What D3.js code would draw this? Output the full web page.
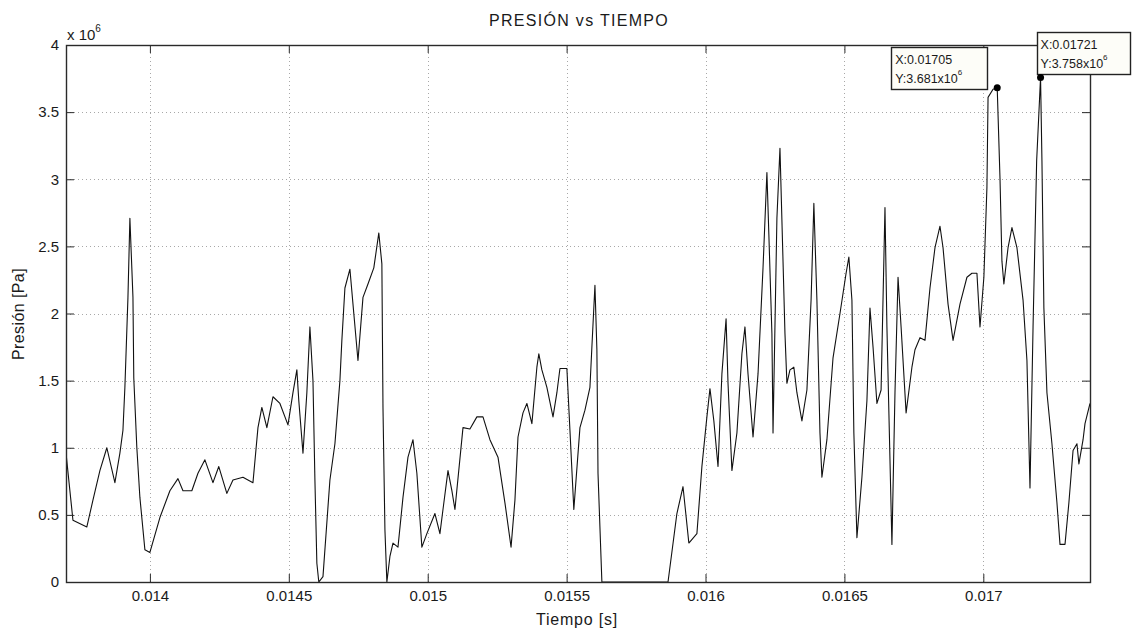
<!DOCTYPE html>
<html>
<head>
<meta charset="utf-8">
<script src="https://cdn.jsdelivr.net/npm/d3@7"></script>
<style>
  body { margin: 0; background: #fff; }
  text { font-family: "Liberation Sans", Arial, sans-serif; fill: #1a1a1a; }
</style>
</head>
<body>
<svg id="chart" width="1132" height="631"></svg>
<script>
// tiempo en s
const tiempo = [
  0.013698, 0.013723, 0.013773, 0.013795, 0.013820, 0.013845, 0.013874, 0.013892, 0.013903, 0.013910,
  0.013921, 0.013928, 0.013939, 0.013942, 0.013953, 0.013964, 0.013982, 0.014000, 0.014036, 0.014072,
  0.014101, 0.014119, 0.014151, 0.014173, 0.014198, 0.014227, 0.014248, 0.014277, 0.014299, 0.014335,
  0.014371, 0.014389, 0.014403, 0.014421, 0.014443, 0.014468, 0.014497, 0.014515, 0.014529, 0.014536,
  0.014551, 0.014565, 0.014576, 0.014587, 0.014594, 0.014601, 0.014608, 0.014623, 0.014648, 0.014666,
  0.014684, 0.014691, 0.014702, 0.014720, 0.014734, 0.014749, 0.014767, 0.014785, 0.014806, 0.014824,
  0.014835, 0.014839, 0.014846, 0.014853, 0.014864, 0.014875, 0.014893, 0.014911, 0.014929, 0.014947,
  0.014961, 0.014979, 0.014997, 0.015026, 0.015044, 0.015055, 0.015073, 0.015087, 0.015098, 0.015127,
  0.015152, 0.015177, 0.015199, 0.015224, 0.015253, 0.015278, 0.015300, 0.015314, 0.015325, 0.015343,
  0.015357, 0.015375, 0.015393, 0.015400, 0.015411, 0.015429, 0.015451, 0.015465, 0.015476, 0.015501,
  0.015512, 0.015526, 0.015548, 0.015566, 0.015584, 0.015591, 0.015602, 0.015609, 0.015613, 0.015627,
  0.015865, 0.015897, 0.015919, 0.015940, 0.015969, 0.015987, 0.016005, 0.016016, 0.016030, 0.016045,
  0.016059, 0.016074, 0.016081, 0.016095, 0.016113, 0.016131, 0.016142, 0.016153, 0.016171, 0.016189,
  0.016207, 0.016221, 0.016228, 0.016239, 0.016243, 0.016257, 0.016268, 0.016279, 0.016286, 0.016293,
  0.016304, 0.016318, 0.016329, 0.016347, 0.016365, 0.016380, 0.016390, 0.016401, 0.016412, 0.016419,
  0.016437, 0.016459, 0.016484, 0.016506, 0.016516, 0.016527, 0.016534, 0.016545, 0.016563, 0.016581,
  0.016592, 0.016603, 0.016617, 0.016632, 0.016646, 0.016653, 0.016671, 0.016682, 0.016693, 0.016704,
  0.016722, 0.016743, 0.016754, 0.016772, 0.016790, 0.016808, 0.016826, 0.016844, 0.016855, 0.016873,
  0.016891, 0.016916, 0.016941, 0.016959, 0.016977, 0.016988, 0.017002, 0.017013, 0.017017, 0.017035,
  0.017050, 0.017060, 0.017067, 0.017074, 0.017089, 0.017103, 0.017121, 0.017143, 0.017157, 0.017168,
  0.017179, 0.017192, 0.017206, 0.017211, 0.017218, 0.017229, 0.017247, 0.017265, 0.017276, 0.017294,
  0.017308, 0.017323, 0.017337, 0.017344, 0.017359, 0.017366, 0.017384
];

// presion en Pa x 10^6
const presion = [
  0.96, 0.46, 0.41, 0.61, 0.83, 1.00, 0.74, 0.96, 1.13, 1.45,
  2.12, 2.71, 2.12, 1.52, 1.00, 0.63, 0.24, 0.22, 0.48, 0.68,
  0.77, 0.68, 0.68, 0.81, 0.91, 0.74, 0.86, 0.66, 0.76, 0.78,
  0.74, 1.15, 1.30, 1.15, 1.38, 1.33, 1.17, 1.41, 1.58, 1.35,
  0.96, 1.41, 1.90, 1.50, 0.76, 0.14, 0.00, 0.04, 0.76, 1.03,
  1.50, 1.80, 2.19, 2.33, 2.00, 1.65, 2.12, 2.22, 2.34, 2.60,
  2.37, 1.30, 0.39, 0.00, 0.19, 0.29, 0.26, 0.63, 0.93, 1.06,
  0.81, 0.26, 0.36, 0.51, 0.36, 0.54, 0.83, 0.68, 0.54, 1.15,
  1.14, 1.23, 1.23, 1.06, 0.93, 0.59, 0.26, 0.61, 1.08, 1.26,
  1.33, 1.18, 1.60, 1.70, 1.58, 1.45, 1.23, 1.41, 1.59, 1.59,
  1.13, 0.54, 1.15, 1.28, 1.45, 1.75, 2.21, 1.73, 0.81, 0.00,
  0.00, 0.51, 0.71, 0.29, 0.36, 0.86, 1.23, 1.44, 1.20, 0.86,
  1.55, 1.96, 1.48, 0.83, 1.11, 1.70, 1.90, 1.55, 1.08, 1.55,
  2.34, 3.05, 2.59, 1.85, 1.11, 2.71, 3.23, 2.39, 1.85, 1.48,
  1.58, 1.60, 1.41, 1.20, 1.43, 2.10, 2.82, 2.10, 1.11, 0.78,
  1.06, 1.67, 2.00, 2.30, 2.42, 2.10, 1.11, 0.33, 0.78, 1.35,
  2.04, 1.75, 1.33, 1.43, 2.79, 1.90, 0.28, 1.41, 2.27, 1.90,
  1.26, 1.60, 1.73, 1.82, 1.80, 2.19, 2.49, 2.65, 2.49, 2.07,
  1.80, 2.07, 2.27, 2.30, 2.30, 1.90, 2.27, 2.94, 3.61, 3.67,
  3.681, 3.01, 2.39, 2.22, 2.49, 2.64, 2.49, 2.10, 1.65, 0.70,
  1.90, 3.14, 3.758, 3.14, 2.04, 1.41, 1.03, 0.59, 0.28, 0.28,
  0.59, 0.98, 1.03, 0.88, 1.06, 1.18, 1.33
];

const xTicks = [0.014, 0.0145, 0.015, 0.0155, 0.016, 0.0165, 0.017];
const xTickLabels = ["0.014", "0.0145", "0.015", "0.0155", "0.016", "0.0165", "0.017"];
const yTicks = [0, 0.5, 1, 1.5, 2, 2.5, 3, 3.5, 4];
const yTickLabels = ["0", "0.5", "1", "1.5", "2", "2.5", "3", "3.5", "4"];

// data tips
const tipTiempo = [0.01705, 0.017206];
const tipPresion = [3.681, 3.758];
const tipX = ["X:0.01705", "X:0.01721"];
const tipY = ["Y:3.681x10", "Y:3.758x10"];

const dims = { left: 66, right: 1090, top: 45, bottom: 582 };

const svg = d3.select("#chart");

const x = d3.scaleLinear().domain([0.013698, 0.017384]).range([dims.left, dims.right]);
const y = d3.scaleLinear().domain([0, 4]).range([dims.bottom, dims.top]);

const axisColor = "#2a2a2a";

// grid
const grid = svg.append("g").attr("class", "grid")
  .attr("stroke", "#a8a8a8").attr("stroke-width", 1).attr("stroke-dasharray", "1 3");
grid.selectAll(".gx").data(xTicks).join("line")
  .attr("x1", d => Math.round(x(d)) + 0.5).attr("x2", d => Math.round(x(d)) + 0.5)
  .attr("y1", dims.top).attr("y2", dims.bottom);
grid.selectAll(".gy").data(yTicks.slice(1, -1)).join("line")
  .attr("class", "gy")
  .attr("x1", dims.left).attr("x2", dims.right)
  .attr("y1", d => Math.round(y(d)) + 0.5).attr("y2", d => Math.round(y(d)) + 0.5);

// curve
svg.append("clipPath").attr("id", "plot-clip")
  .append("rect")
    .attr("x", dims.left).attr("y", dims.top)
    .attr("width", dims.right - dims.left).attr("height", dims.bottom - dims.top);

const serie = tiempo.map((t, i) => ({ t, p: presion[i] }));
const line = d3.line().x(d => x(d.t)).y(d => y(d.p));

svg.append("path")
  .datum(serie)
  .attr("clip-path", "url(#plot-clip)")
  .attr("fill", "none")
  .attr("stroke", "#111")
  .attr("stroke-width", 1.1)
  .attr("stroke-linejoin", "round")
  .attr("d", line);

// axes
const tickLen = 8;
const styleAxis = g => {
  g.select(".domain").remove();
  g.selectAll(".tick line").attr("stroke", axisColor);
  g.selectAll(".tick text").style("font-size", "15px").attr("fill", "#1a1a1a");
};

svg.append("g")
  .attr("transform", `translate(0,${dims.bottom})`)
  .call(d3.axisBottom(x).tickValues(xTicks).tickFormat((d, i) => xTickLabels[i])
    .tickSizeInner(-tickLen).tickSizeOuter(0).tickPadding(8))
  .call(styleAxis);

svg.append("g")
  .attr("transform", `translate(0,${dims.top})`)
  .call(d3.axisTop(x).tickValues(xTicks).tickFormat("").tickSizeInner(-tickLen).tickSizeOuter(0))
  .call(styleAxis);

svg.append("g")
  .attr("transform", `translate(${dims.left},0)`)
  .call(d3.axisLeft(y).tickValues(yTicks).tickFormat((d, i) => yTickLabels[i])
    .tickSizeInner(-tickLen).tickSizeOuter(0).tickPadding(7))
  .call(styleAxis);

svg.append("g")
  .attr("transform", `translate(${dims.right},0)`)
  .call(d3.axisRight(y).tickValues(yTicks).tickFormat("").tickSizeInner(-tickLen).tickSizeOuter(0))
  .call(styleAxis);

svg.append("rect")
  .attr("x", dims.left + 0.5).attr("y", dims.top + 0.5)
  .attr("width", dims.right - dims.left).attr("height", dims.bottom - dims.top)
  .attr("fill", "none").attr("stroke", axisColor).attr("stroke-width", 1.4);

// exponent label
const expo = svg.append("text")
  .attr("x", dims.left + 1).attr("y", dims.top - 5)
  .style("font-size", "15px");
expo.append("tspan").text("x 10");
expo.append("tspan").attr("dy", -8).style("font-size", "10px").text("6");

// titles
svg.append("text")
  .attr("x", 579).attr("y", 26)
  .attr("text-anchor", "middle")
  .style("font-size", "16px")
  .style("letter-spacing", "1.3px")
  .text("PRESIÓN vs TIEMPO");

svg.append("text")
  .attr("x", 577).attr("y", 625)
  .attr("text-anchor", "middle")
  .style("font-size", "16px")
  .style("letter-spacing", "0.8px")
  .text("Tiempo [s]");

svg.append("text")
  .attr("transform", "translate(24,314) rotate(-90)")
  .attr("text-anchor", "middle")
  .style("font-size", "16px")
  .style("letter-spacing", "0.4px")
  .text("Presión [Pa]");

// data tips
const tipBoxes = [
  { dx: -106, dy: -41, w: 96, h: 42 },
  { dx: -4, dy: -45, w: 93, h: 42 }
];

tipTiempo.forEach((t, i) => {
  const px = x(t), py = y(tipPresion[i]);
  const b = tipBoxes[i];
  const g = svg.append("g");
  g.append("rect")
    .attr("x", Math.round(px + b.dx) + 0.5).attr("y", Math.round(py + b.dy) + 0.5)
    .attr("width", b.w).attr("height", b.h)
    .attr("fill", "#fdfdf8").attr("stroke", "#222").attr("stroke-width", 1.4);
  g.append("text")
    .attr("x", px + b.dx + 4).attr("y", py + b.dy + 17)
    .style("font-size", "12.5px").attr("fill", "#3a3a3a")
    .text(tipX[i]);
  const ty = g.append("text")
    .attr("x", px + b.dx + 4).attr("y", py + b.dy + 36)
    .style("font-size", "12.5px").attr("fill", "#3a3a3a");
  ty.append("tspan").text(tipY[i]);
  ty.append("tspan").attr("dy", -8).style("font-size", "8px").text("6");
  g.append("circle")
    .attr("cx", px).attr("cy", py).attr("r", 3.5)
    .attr("fill", "#000");
});
</script>
</body>
</html>
